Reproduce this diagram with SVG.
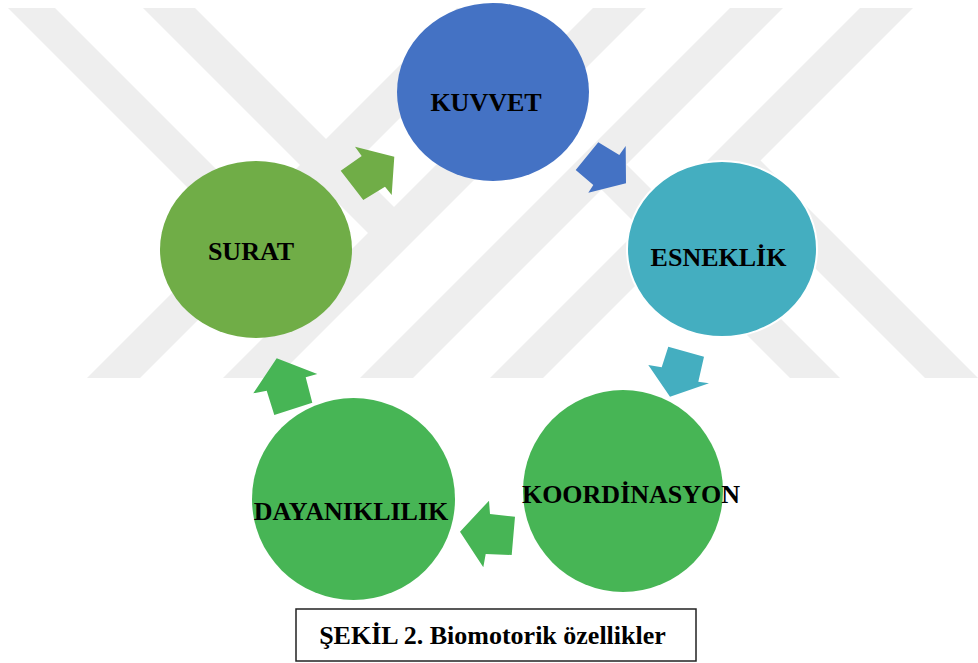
<svg xmlns="http://www.w3.org/2000/svg" width="978" height="663" viewBox="0 0 978 663">
<style>
  .wm { fill: #eeeeee; }
  .lbl { font-family: "Liberation Serif", "Times New Roman", serif; font-weight: bold; font-size: 26px; fill: #000; text-anchor: middle; }
  .cap { font-family: "Liberation Serif", "Times New Roman", serif; font-weight: bold; font-size: 26px; fill: #000; text-anchor: middle; }
</style>
<defs>
  <clipPath id="wmclip"><rect x="0" y="8" width="978" height="370"/></clipPath>
</defs>
<rect width="978" height="663" fill="#ffffff"/>
<g id="watermark" clip-path="url(#wmclip)">
  <polygon class="wm" points="87,378 140,378 510,8 457,8"/>
  <polygon class="wm" points="223,378 276,378 646,8 593,8"/>
  <polygon class="wm" points="360,378 413,378 783,8 730,8"/>
  <polygon class="wm" points="490,378 543,378 913,8 860,8"/>
  <polygon class="wm" points="8,8 55,8 269,222 245.5,245.5"/>
  <polygon class="wm" points="143,8 195,8 407.5,220.5 381.5,246.5"/>
  <polygon class="wm" points="588,176 613,151 840,378 790,378"/>
  <polygon class="wm" points="720.5,173.5 747,147 978,378 925,378"/>
</g>
<g id="connectors">
  <polygon fill="#70AD47" points="340.7,170.7 361.7,156 355,146.7 394.3,156.7 391.7,195 385,186.7 363.3,200"/>
  <polygon fill="#4472C4" points="598.3,142.3 619.3,155 625.7,146 626,183.3 588.3,192.7 593.3,185 575.7,170"/>
  <polygon fill="#44AEC0" points="668.3,346.7 704,356.7 698.3,381.7 709,383.3 670,396.7 648.3,365 661.7,367.3"/>
  <polygon fill="#47B555" points="460,531.7 489,500.7 490,514 515,516.7 511.7,555 485.7,554 483.3,567.3"/>
  <polygon fill="#47B555" points="276.7,358.3 317.3,374 305.7,377.3 312.3,402.7 274.3,415 266.7,390.7 253.3,393.3"/>
</g>
<g id="kuvvet">
  <ellipse cx="493" cy="92" rx="96" ry="89" fill="#4472C4"/>
  <text class="lbl" x="486" y="111">KUVVET</text>
</g>
<g id="esneklik">
  <ellipse cx="722" cy="249" rx="95" ry="88" fill="#44AEC0" stroke="#ffffff" stroke-width="2"/>
  <text class="lbl" x="718.5" y="266">ESNEKLİK</text>
</g>
<g id="koordinasyon">
  <ellipse cx="623" cy="491" rx="100" ry="101" fill="#47B555"/>
  <text class="lbl" x="631" y="503">KOORDİNASYON</text>
</g>
<g id="dayaniklilik">
  <ellipse cx="353.5" cy="499" rx="101.5" ry="101" fill="#47B555"/>
  <text class="lbl" x="351" y="520">DAYANIKLILIK</text>
</g>
<g id="surat">
  <ellipse cx="256" cy="249.5" rx="96" ry="88.5" fill="#70AD47"/>
  <text class="lbl" x="251" y="260">SURAT</text>
</g>
<g id="caption">
  <rect x="296" y="609" width="400" height="52" fill="#ffffff" stroke="#222222" stroke-width="1.5"/>
  <text class="cap" x="492.5" y="644">ŞEKİL 2. Biomotorik özellikler</text>
</g>
</svg>
